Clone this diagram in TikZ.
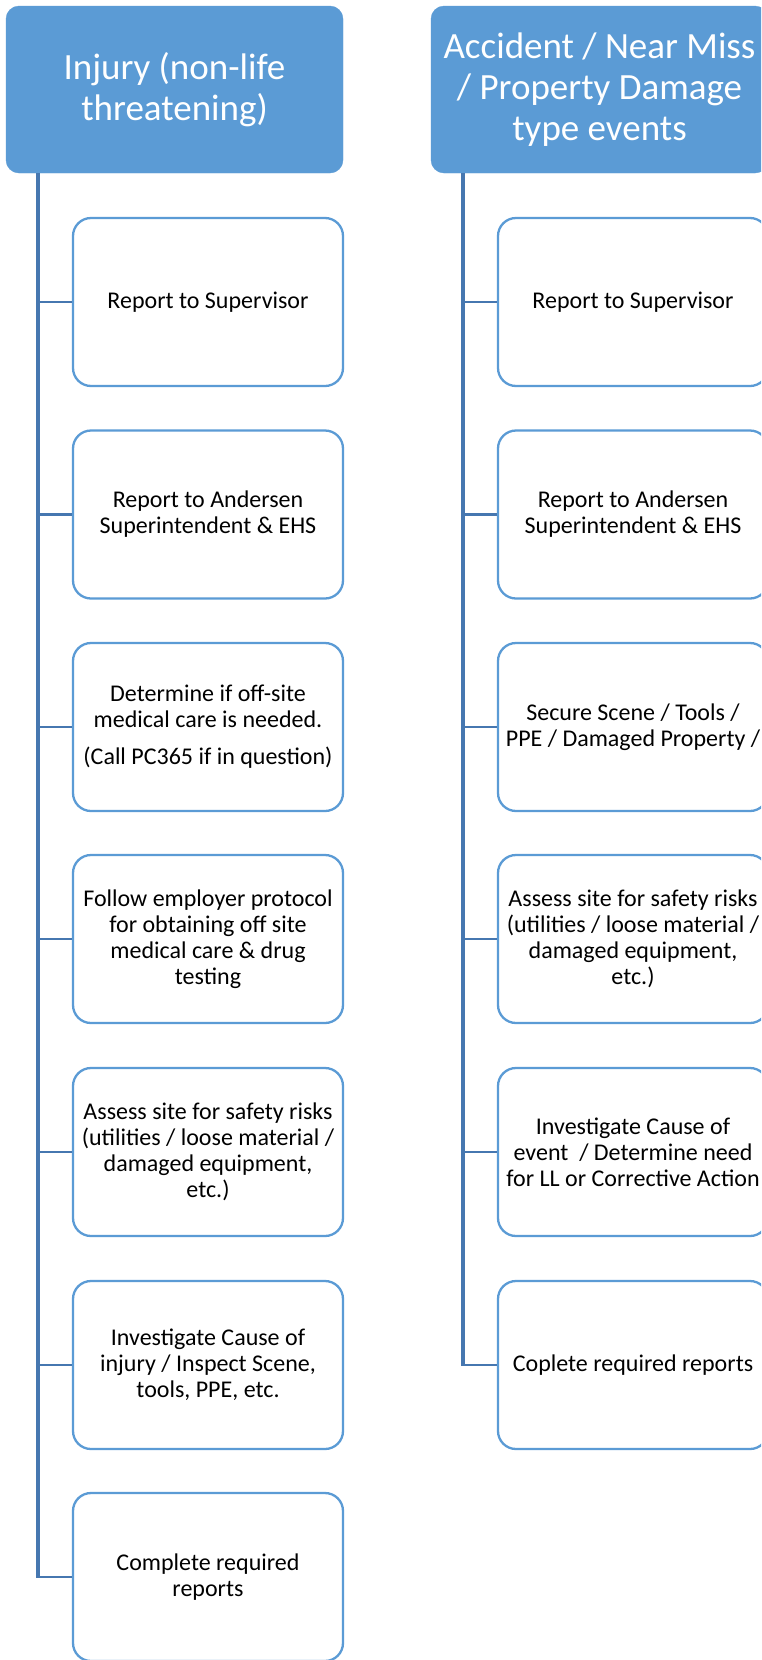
\documentclass[tikz,border=0pt]{standalone}
\usepackage{fontspec}
\setmainfont{Carlito}
\definecolor{hdrblue}{HTML}{5B9BD5}
\definecolor{trunkblue}{HTML}{4677B0}
\tikzset{
  hdr/.style={fill=hdrblue,draw=hdrblue,rounded corners=13pt,
    minimum width=337pt,minimum height=167pt,inner sep=0pt,
    text=white,align=center,font=\fontsize{37}{40.8}\selectfont},
  stepbox/.style={draw=hdrblue,line width=2.3pt,fill=white,
    rounded corners=18pt,minimum width=270pt,minimum height=168pt,
    inner sep=0pt,align=center,font=\fontsize{24}{26}\selectfont},
  trunk/.style={draw=trunkblue,line width=3.8pt,shorten >=-1.3pt},
  branch/.style={draw=trunkblue,line width=2.6pt}
}
\begin{document}
\begin{tikzpicture}[x=1pt,y=-1pt]
  \useasboundingbox (0,0) rectangle (761,1660);
  \clip (0,0) rectangle (761,1660);
  % headers
  \node[hdr] (hdrL) at (174.5,89.5) {Injury (non-life\\threatening)};
  \node[hdr] (hdrR) at (599.5,89.5) {Accident / Near Miss\\/ Property Damage\\type events};
  \coordinate (trunkL) at (38,173);
  \coordinate (trunkR) at (463,173);
  % injury column
  \node[stepbox] (a1) at (208,302) {Report to Supervisor};
  \node[stepbox] (a2) at (208,514.5) {Report to Andersen\\Superintendent \& EHS};
  \node[stepbox] (a3) at (208,727) {Determine if off-site\\medical care is needed.\\[11pt](Call PC365 if in question)};
  \node[stepbox] (a4) at (208,939) {Follow employer protocol\\for obtaining off site\\medical care \& drug\\testing};
  \node[stepbox] (a5) at (208,1152) {Assess site for safety risks\\(utilities / loose material /\\damaged equipment,\\etc.)};
  \node[stepbox] (a6) at (208,1365) {Investigate Cause of\\injury / Inspect Scene,\\tools, PPE, etc.};
  \node[stepbox] (a7) at (208,1577) {Complete required\\reports};
  % accident column
  \node[stepbox] (b1) at (633,302) {Report to Supervisor};
  \node[stepbox] (b2) at (633,514.5) {Report to Andersen\\Superintendent \& EHS};
  \node[stepbox] (b3) at (633,727) {Secure Scene / Tools /\\PPE / Damaged Property /};
  \node[stepbox] (b4) at (633,939) {Assess site for safety risks\\(utilities / loose material /\\damaged equipment,\\etc.)};
  \node[stepbox] (b5) at (633,1152) {Investigate Cause of\\event\ \ / Determine need\\for LL or Corrective Action};
  \node[stepbox] (b6) at (633,1365) {Coplete required reports};
  % connectors
  \draw[trunk] (trunkL) -- (a7.west -| trunkL);
  \foreach \i in {1,...,7}{
    \draw[branch] (a\i.west) -- (a\i.west -| trunkL);
  }
  \draw[trunk] (trunkR) -- (b6.west -| trunkR);
  \foreach \i in {1,...,6}{
    \draw[branch] (b\i.west) -- (b\i.west -| trunkR);
  }
\end{tikzpicture}
\end{document}
